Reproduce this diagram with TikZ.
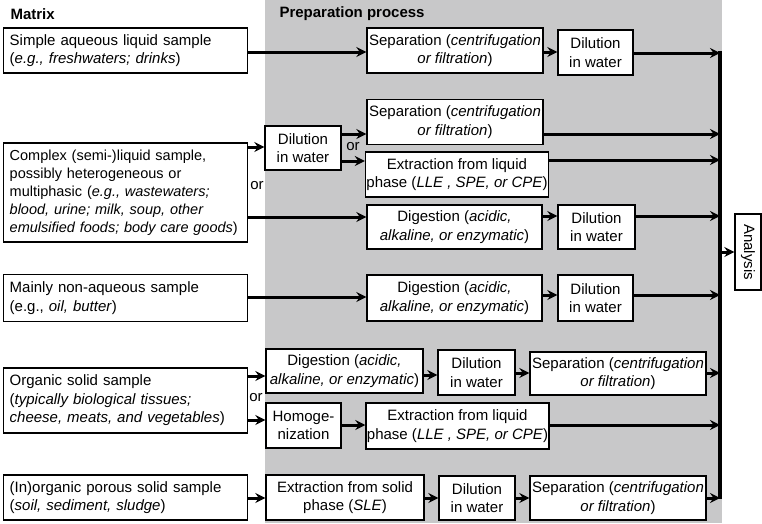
\documentclass[tikz,border=0pt]{standalone}
\usepackage{fontspec}
\setmainfont{Liberation Sans}
\usetikzlibrary{arrows.meta}
\definecolor{procgray}{RGB}{200,200,201}
\tikzset{
	matbox/.style = {draw, line width=1.4pt, fill=white, anchor=west, align=left, text width=232pt, inner xsep=6pt, inner ysep=2pt},
	procbox/.style = {draw, line width=1.4pt, fill=white, align=center, inner xsep=1pt, inner ysep=2pt, minimum height=45pt},
	arr/.style = {line width=3pt, -{Stealth[length=10pt,width=10pt,inset=3.5pt]}},
	ortext/.style = {inner sep=0pt}
}
\begin{document}
\begin{tikzpicture}[x=1pt, y=-1pt, font=\fontsize{15}{18.5}\selectfont]
	\useasboundingbox (0,0) rectangle (762,523);
	\fill[procgray] (265,0) rectangle (722,523);
	%
	\node[anchor=west, font=\fontsize{15}{18.5}\selectfont\bfseries] (mattitle) at (7,14) {Matrix};
	\node[anchor=west, font=\fontsize{15}{18.5}\selectfont\bfseries] (preptitle) at (276,14) {Preparation process};
	%
	\node[matbox, minimum height=45pt] (mat1) at (3,50.5) {Simple aqueous liquid sample\\(\textit{e.g., freshwaters; drinks})};
	\node[matbox, minimum height=99pt, font=\fontsize{14.5}{18}\selectfont] (mat2) at (3,192.5) {Complex (semi-)liquid sample,\\possibly heterogeneous or\\multiphasic (\textit{e.g., wastewaters;}\\\textit{blood, urine; milk, soup, other}\\\textit{emulsified foods; body care goods})};
	\node[matbox, minimum height=47pt] (mat3) at (3,298) {Mainly non-aqueous sample\\(e.g., \textit{oil, butter})};
	\node[matbox, minimum height=65pt] (mat4) at (3,400.5) {Organic solid sample\\(\textit{typically biological tissues;}\\\textit{cheese, meats, and vegetables})};
	\node[matbox, minimum height=45pt] (mat5) at (3,497.5) {(In)organic porous solid sample\\(\textit{soil, sediment, sludge})};
	%
	\node[procbox, minimum width=176pt] (sep1) at (455,50.5) {Separation (\textit{centrifugation}\\\textit{or filtration})};
	\node[procbox, minimum width=75pt] (dil1) at (595.5,52.5) {Dilution\\in water};
	%
	\node[procbox, minimum width=76pt, minimum height=44pt] (dil2) at (303,148) {Dilution\\in water};
	\node[procbox, minimum width=176pt] (sep2) at (455,122) {Separation (\textit{centrifugation}\\\textit{or filtration})};
	\node[procbox, minimum width=180pt] (ext2) at (457,174.5) {Extraction from liquid\\phase (\textit{LLE , SPE, or CPE})};
	\node[procbox, minimum width=175pt, minimum height=44pt] (dig2) at (454.5,227) {Digestion (\textit{acidic,}\\\textit{alkaline, or enzymatic})};
	\node[procbox, minimum width=77pt, minimum height=44pt] (dil3) at (596.5,227) {Dilution\\in water};
	%
	\node[procbox, minimum width=175pt, minimum height=46pt] (dig3) at (454.5,298) {Digestion (\textit{acidic,}\\\textit{alkaline, or enzymatic})};
	\node[procbox, minimum width=75pt, minimum height=46pt] (dil4) at (595.5,298) {Dilution\\in water};
	%
	\node[procbox, minimum width=157pt, minimum height=44pt] (dig4) at (344.5,371) {Digestion (\textit{acidic,}\\\textit{alkaline, or enzymatic})};
	\node[procbox, minimum width=77pt] (dil5) at (476.5,372.5) {Dilution\\in water};
	\node[procbox, minimum width=176pt, minimum height=43pt] (sep5) at (618,373.5) {Separation (\textit{centrifugation}\\\textit{or filtration})};
	\node[procbox, minimum width=75pt] (hom5) at (303.5,425.5) {Homoge-\\nization};
	\node[procbox, minimum width=181pt, minimum height=46pt] (ext5) at (457.5,426) {Extraction from liquid\\phase (\textit{LLE , SPE, or CPE})};
	%
	\node[procbox, minimum width=158pt] (ext6) at (345,497.5) {Extraction from solid\\phase (\textit{SLE})};
	\node[procbox, minimum width=76pt, minimum height=44pt] (dil6) at (477,498) {Dilution\\in water};
	\node[procbox, minimum width=176pt, minimum height=44pt] (sep6) at (618,498) {Separation (\textit{centrifugation}\\\textit{or filtration})};
	%
	\node[draw, line width=1.4pt, fill=white, rotate=-90, minimum width=76pt, minimum height=26pt, inner sep=1pt] (ana) at (748,252) {Analysis};
	%
	\coordinate (bustop) at (720,51);
	\coordinate (busbot) at (720,499);
	\draw[line width=3.4pt] (bustop) -- (busbot);
	%
	\node[ortext] (or1) at (257,186) {or};
	\node[ortext] (or2) at (353,147) {or};
	\node[ortext] (or3) at (256,398) {or};
	%
	\draw[arr] (mat1.east |- 0,52) -- (sep1.west |- 0,52);
	\draw[arr] (sep1.east |- 0,52) -- (dil1.west |- 0,52);
	\draw[arr] (dil1.east |- 0,53) -- (bustop |- 0,53);
	%
	\draw[arr] (mat2.east |- 0,147) -- (dil2.west |- 0,147);
	\draw[arr] (dil2.east |- 0,134) -- (sep2.west |- 0,134);
	\draw[arr] (sep2.east |- 0,134) -- (bustop |- 0,134);
	\draw[arr] (dil2.east |- 0,161) -- (ext2.west |- 0,161);
	\draw[arr] (ext2.east |- 0,160) -- (bustop |- 0,160);
	\draw[arr] (mat2.east |- 0,217) -- (dig2.west |- 0,217);
	\draw[arr] (dig2.east |- 0,216) -- (dil3.west |- 0,216);
	\draw[arr] (dil3.east |- 0,216) -- (bustop |- 0,216);
	%
	\draw[arr] (mat3.east |- 0,297) -- (dig3.west |- 0,297);
	\draw[arr] (dig3.east |- 0,295) -- (dil4.west |- 0,295);
	\draw[arr] (dil4.east |- 0,295) -- (bustop |- 0,295);
	%
	\draw[arr] (mat4.east |- 0,376) -- (dig4.west |- 0,376);
	\draw[arr] (dig4.east |- 0,375) -- (dil5.west |- 0,375);
	\draw[arr] (dil5.east |- 0,373) -- (sep5.west |- 0,373);
	\draw[arr] (sep5.east |- 0,373) -- (bustop |- 0,373);
	\draw[arr] (mat4.east |- 0,420) -- (hom5.west |- 0,420);
	\draw[arr] (hom5.east |- 0,425) -- (ext5.west |- 0,425);
	\draw[arr] (ext5.east |- 0,425) -- (bustop |- 0,425);
	%
	\draw[arr] (mat5.east |- 0,498) -- (ext6.west |- 0,498);
	\draw[arr] (ext6.east |- 0,498) -- (dil6.west |- 0,498);
	\draw[arr] (dil6.east |- 0,498) -- (sep6.west |- 0,498);
	\draw[arr] (sep6.east |- 0,498) -- (bustop |- 0,498);
	%
	\draw[arr] (bustop |- 0,252) -- (ana.south);
\end{tikzpicture}
\end{document}
